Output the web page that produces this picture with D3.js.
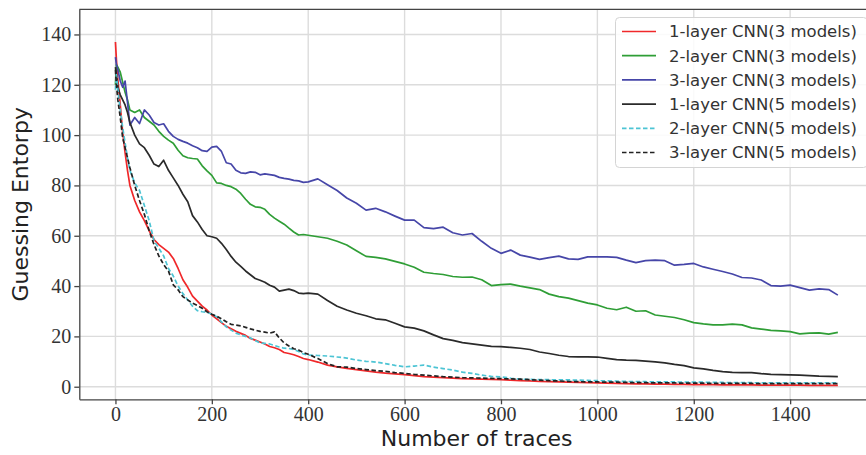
<!DOCTYPE html>
<html>
<head>
<meta charset="utf-8">
<script src="https://cdn.jsdelivr.net/npm/d3@7/dist/d3.min.js"></script>
<style>
    body { margin: 0; background: #fff; }
    .tick text { font-family: "Liberation Serif", "Times New Roman", serif; font-size: 20px; fill: #333; }
    .axis path, .axis line { stroke: #444; stroke-width: 1.3; }
    .grid line { stroke: #dcdcdc; stroke-width: 1.4; }
    .axis-label { font-family: "DejaVu Sans", sans-serif; font-size: 22px; fill: #222; }
    .legend-text { font-family: "DejaVu Sans", sans-serif; font-size: 16.5px; fill: #333; }
</style>
</head>
<body>
<svg id="chart" width="866" height="455"></svg>
<script>
// x positions (number of traces) shared by every series
var traces = [
    0,2,5,10,15,20,25,30,40,50,
    60,70,80,90,100,110,120,130,140,150,
    160,170,180,190,200,210,220,230,240,250,
    260,270,280,290,300,310,320,330,340,350,
    360,370,380,390,400,420,440,460,480,500,
    520,540,560,580,600,620,640,660,680,700,
    720,740,760,780,800,820,840,860,880,900,
    920,940,960,980,1000,1020,1040,1060,1080,1100,
    1120,1140,1160,1180,1200,1220,1240,1260,1280,1300,
    1320,1340,1360,1380,1400,1420,1440,1460,1480,1499
];

var cnn1x3 = [
    137,130,122,112,101,93,86,80,74,69.5,
    66,62,58.5,56.5,55,53.5,51,47,42.5,39.5,
    36,34,32,30.5,28.5,27,25.5,24,23,22,
    21.2,20.4,19.2,18.5,17.8,17,16,15.5,14.8,13.6,
    13.2,12.7,12,11.2,10.8,9.8,8.6,7.9,7.3,6.8,
    6.3,5.8,5.4,5.1,4.8,4.4,4,3.8,3.6,3.4,
    3.2,3.1,3,2.9,2.8,2.6,2.4,2.3,2.1,2,
    1.9,1.8,1.7,1.6,1.5,1.4,1.3,1.2,1.1,1.1,
    1,1,0.9,0.9,0.8,0.8,0.8,0.7,0.7,0.7,
    0.7,0.6,0.6,0.6,0.6,0.6,0.5,0.5,0.5,0.5
];

var cnn2x3 = [
    120,128,127,125,121,117,114,110,109,110,
    107,105.5,104,101.5,99.5,98,96.8,94,91.8,91,
    90.7,90.5,87.8,85.8,84,81,80.8,80,79.5,78.5,
    76.8,74.5,72.5,71.5,71.3,70.5,68.5,67,65.8,64.6,
    63,61.5,60.3,60.5,60.2,59.6,59,57.8,56.3,54,
    51.8,51.4,50.8,49.8,48.8,47.5,45.5,45,44.6,43.8,
    43.5,43.6,42.5,40.2,40.6,40.8,40,39.3,38.6,36.8,
    35.8,35.2,34.2,33.2,32.5,31.2,30.6,31.6,30,30.2,
    28.5,28,27.5,26.6,25.5,25,24.6,24.6,24.9,24.6,
    23.4,22.9,22.4,22.2,21.9,21,21.3,21.4,20.9,21.6
];

var cnn3x3 = [
    131,128,126,121.5,119,121.5,113,104,107,104.6,
    110,108,105,104,104.5,101.5,99.5,98.3,97.5,96.8,
    95.8,95,93.8,93.5,95.2,95.5,93.5,89,88.5,86,
    85,84.8,85.4,85.2,84.2,84.6,84.3,84,83.2,82.8,
    82.5,82,81.8,81.2,81.4,82.6,80.3,78,75,72.9,
    70.2,70.9,69.5,67.8,66.2,66.2,63.2,62.8,63.4,61.2,
    60.3,60.9,57.8,55,53,54.3,52.3,51.5,50.6,51.3,
    51.9,50.8,50.6,51.6,51.6,51.6,51.4,50.3,49.3,50.1,
    50.3,50.1,48.3,48.6,49,47.6,46.7,45.8,44.8,43.4,
    43.2,42.4,40.2,40,40.4,39.4,38.4,38.9,38.6,36.4
];

var cnn1x5 = [
    127,124,119,116,114,112,109,105,100,96.5,
    95,92,88.5,87.5,90,86,83,80,76.5,73.5,
    68,65.5,62.5,60,59.6,59,57,54.5,51.8,49.5,
    47.8,46,44.5,43,42.3,41.5,40.3,39.6,38,38.4,
    38.8,38.2,37.2,37,37.2,36.8,34.3,32,30.5,29.2,
    28.2,27,26.6,25.2,23.8,23.3,22.2,20.6,19.1,18.4,
    17.5,17,16.5,16,15.9,15.6,15.3,14.8,13.8,13.2,
    12.5,12,11.9,11.9,11.8,11.3,10.8,10.6,10.5,10.2,
    9.9,9.5,8.9,8.4,7.5,7.1,6.5,6,5.7,5.6,
    5.6,5.2,4.9,4.8,4.7,4.6,4.4,4.2,4.1,4
];

var cnn2x5 = [
    118,124,118,110,103,97,91,86,81,78,
    72,66,58,55,52,47,44,40,37,34.5,
    32,30.2,29.8,29.6,28.8,27.8,25.8,23.8,22.5,21.3,
    20.6,20,19.4,18.4,17.4,17.2,17,16.4,15.8,15.3,
    15.2,14.8,14,13,12.6,12.4,12.2,11.8,11.4,10.6,
    10.1,9.8,9.2,8.5,7.9,8.2,8.6,7.8,7.2,6.6,
    5.8,5.3,4.6,4.1,3.9,3.4,3,2.9,2.8,2.8,
    2.7,2.7,2.6,2.5,2.4,2.3,2.2,2.1,2,2,
    1.9,1.9,1.9,1.8,1.8,1.8,1.7,1.7,1.6,1.6,
    1.6,1.5,1.5,1.5,1.5,1.5,1.5,1.5,1.5,1.5
];

var cnn3x5 = [
    126,120,114,107,99,95,91,87,80,74,
    68.5,62,56.5,52,48.5,46,40.5,38.5,35.8,34.5,
    33.2,32.3,31.2,29.8,28.8,28,27,25.8,24.8,24.5,
    24.2,23.6,23,22.5,22,21.7,21.3,21.8,19.4,17.4,
    16.2,15.1,14.6,13.6,12.9,11.2,9.2,7.9,7.8,7.2,
    6.8,6.4,6.1,5.6,5.3,4.9,4.6,4.3,4,3.8,
    3.6,3.5,3.4,3.3,3.2,3.1,3,2.8,2.6,2.4,
    2.3,2.1,2,1.9,1.9,1.8,1.8,1.7,1.6,1.6,
    1.5,1.5,1.5,1.4,1.4,1.4,1.3,1.3,1.3,1.3,
    1.3,1.2,1.2,1.2,1.2,1.2,1.2,1.2,1.2,1.2
];

var seriesNames = [
    "1-layer CNN(3 models)", "2-layer CNN(3 models)", "3-layer CNN(3 models)",
    "1-layer CNN(5 models)", "2-layer CNN(5 models)", "3-layer CNN(5 models)"
];
var seriesValues = [cnn1x3, cnn2x3, cnn3x3, cnn1x5, cnn2x5, cnn3x5];

var xTicks = [0, 200, 400, 600, 800, 1000, 1200, 1400];
var yTicks = [0, 20, 40, 60, 80, 100, 120, 140];

function EntropyChart(id){
    var self = this;
    self.svgID = '#' + id;
    self.init();
}

EntropyChart.prototype.init = function(){
    var self = this;

    // PLOT AREA (right side runs past the picture, like the original crop)
    self.margin = {left: 79.3, right: 874, top: 9.3, bottom: 399.3};
    self.svg = d3.select(self.svgID);

    self.x = d3.scaleLinear().domain([-75, 1574]).range([self.margin.left, self.margin.right]);
    self.y = d3.scaleLinear().domain([-5, 150]).range([self.margin.bottom, self.margin.top]);

    self.colors = ['#f0282a', '#2f9e36', '#4646a8', '#2a2a2a', '#4cc4d4', '#222222'];
    self.dashes = [null, null, null, null, '4.5,2.5', '4.5,2.5'];

    self.drawGrid();
    self.drawLines();
    self.drawAxes();
    self.drawLegend();
};

EntropyChart.prototype.drawGrid = function(){
    var self = this;
    var grid = self.svg.append("g").attr("class", "grid");

    grid.selectAll(".gx").data(xTicks).join("line")
        .attr("class", "gx")
        .attr("x1", d => self.x(d)).attr("x2", d => self.x(d))
        .attr("y1", self.margin.top).attr("y2", self.margin.bottom);

    grid.selectAll(".gy").data(yTicks).join("line")
        .attr("class", "gy")
        .attr("x1", self.margin.left).attr("x2", self.margin.right)
        .attr("y1", d => self.y(d)).attr("y2", d => self.y(d));
};

EntropyChart.prototype.drawLines = function(){
    var self = this;

    var line = d3.line()
        .x((d, i) => self.x(traces[i]))
        .y(d => self.y(d));

    self.svg.append("g")
        .selectAll("path")
        .data(seriesValues)
        .join("path")
        .attr("d", d => line(d))
        .attr("fill", "none")
        .attr("stroke", (d, i) => self.colors[i])
        .attr("stroke-width", 1.7)
        .attr("stroke-linejoin", "round")
        .attr("stroke-dasharray", (d, i) => self.dashes[i]);
};

EntropyChart.prototype.drawAxes = function(){
    var self = this;

    self.svg.append("g")
        .attr("class", "x-axis axis")
        .attr("transform", "translate(0," + self.margin.bottom + ")")
        .call(d3.axisBottom(self.x).tickValues(xTicks).tickFormat(d3.format("d"))
            .tickSize(5).tickPadding(3).tickSizeOuter(0));

    self.svg.append("g")
        .attr("class", "y-axis axis")
        .attr("transform", "translate(" + self.margin.left + ",0)")
        .call(d3.axisLeft(self.y).tickValues(yTicks).tickFormat(d3.format("d"))
            .tickSize(5).tickPadding(3).tickSizeOuter(0));

    // top spine
    self.svg.append("line")
        .attr("x1", self.margin.left).attr("x2", self.margin.right)
        .attr("y1", self.margin.top).attr("y2", self.margin.top)
        .attr("stroke", "#444").attr("stroke-width", 1.3);

    //axis labels
    self.svg.append("text")
        .attr("class", "axis-label")
        .attr("x", (self.margin.left + self.margin.right) / 2)
        .attr("y", 446)
        .attr("text-anchor", "middle")
        .text("Number of traces");

    self.svg.append("text")
        .attr("class", "axis-label")
        .attr("transform", "translate(28," + ((self.margin.top + self.margin.bottom) / 2) + ") rotate(-90)")
        .attr("text-anchor", "middle")
        .text("Guessing Entorpy");
};

EntropyChart.prototype.drawLegend = function(){
    var self = this;
    var legend = self.svg.append("g").attr("class", "legend");

    legend.append("rect")
        .attr("x", 615.5).attr("y", 17.5)
        .attr("width", 252).attr("height", 150)
        .attr("rx", 4)
        .attr("fill", "#fff").attr("fill-opacity", 0.85)
        .attr("stroke", "#d4d4d4");

    var rows = legend.selectAll(".legend-row")
        .data(seriesNames)
        .join("g")
        .attr("class", "legend-row")
        .attr("transform", (d, i) => "translate(0," + (31.5 + i * 24.2) + ")");

    rows.append("line")
        .attr("x1", 622).attr("x2", 656)
        .attr("stroke", (d, i) => self.colors[i])
        .attr("stroke-width", 1.7)
        .attr("stroke-dasharray", (d, i) => self.dashes[i]);

    rows.append("text")
        .attr("class", "legend-text")
        .attr("x", 669)
        .attr("dy", "0.36em")
        .text(d => d);
};

new EntropyChart("chart");
</script>
</body>
</html>
